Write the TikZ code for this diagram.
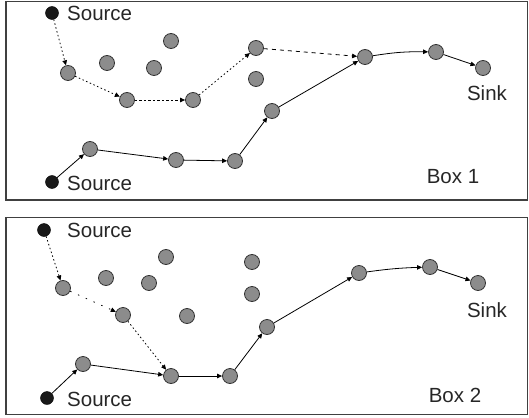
\documentclass[tikz,border=0pt]{standalone}
\usepackage{fontspec}
\setmainfont{Liberation Sans}
\usetikzlibrary{arrows.meta}
\definecolor{nodegrey}{HTML}{8C8C8C}
\definecolor{framegrey}{HTML}{404040}
\tikzset{
  pt/.style={circle,draw=black!80,fill=nodegrey,line width=0.8pt,minimum size=15pt,inner sep=0pt},
  src/.style={circle,fill=black!90,draw=black,minimum size=13pt,inner sep=0pt},
  lbl/.style={font=\fontsize{20.5}{24}\selectfont,inner sep=0pt,text=black!85},
  frame/.style={draw=framegrey,line width=1.5pt},
  link/.style={line width=0.8pt,-{Triangle[length=5pt,width=4.5pt]}},
  dotlink/.style={link,dash pattern=on 1.5pt off 2.5pt},
  dashlink/.style={link,dash pattern=on 4pt off 4pt},
}
\begin{document}
\begin{tikzpicture}[x=1pt,y=-1pt]
\useasboundingbox (0,0) rectangle (529,417);
% frames
\draw[frame] (6,1.5) rectangle (527.5,200);
\draw[frame] (6,217.5) rectangle (527.5,414.5);

% ---- Box 1 ----
\node[src] (s1a) at (52,13) {};
\node[lbl,anchor=west] (t1a) at (67,13) {Source};
\node[src] (s1b) at (52,182) {};
\node[lbl,anchor=west] (t1b) at (67,183) {Source};
\node[pt] (a1) at (68,73) {};
\node[pt] (b1) at (127,100) {};
\node[pt] (c1) at (193,100) {};
\node[pt] (d1) at (256,48) {};
\node[pt] (e1) at (272,111) {};
\node[pt] (f1) at (365,57) {};
\node[pt] (g1) at (436,52) {};
\node[pt] (k1) at (483,68) {};
\node[pt] (h1) at (90,149) {};
\node[pt] (i1) at (176,160) {};
\node[pt] (j1) at (235,161) {};
\node[pt] (u1) at (107,63) {};
\node[pt] (v1) at (154,68) {};
\node[pt] (w1) at (171,41) {};
\node[pt] (x1) at (256,79) {};
\node[lbl] (sink1) at (487,93) {Sink};
\node[lbl] (box1) at (453,177) {Box 1};

\draw[dotlink] (s1a) -- (a1);
\draw[dotlink] (a1) -- (b1);
\draw[link,dash pattern=on 2.5pt off 2pt] (b1) -- (c1);
\draw[dotlink] (c1) -- (d1);
\draw[dashlink] (d1) -- (f1);
\draw[link] (s1b) -- (h1);
\draw[link] (h1) -- (i1);
\draw[link] (i1) -- (j1);
\draw[link] (j1) -- (e1);
\draw[link] (e1) -- (f1);
\draw[link] (f1) to[bend left=5] (g1);
\draw[link] (g1) -- (k1);

% ---- Box 2 ----
\node[src] (s2a) at (44,230) {};
\node[lbl,anchor=west] (t2a) at (67,230) {Source};
\node[src] (s2b) at (47,398) {};
\node[lbl,anchor=west] (t2b) at (67,399) {Source};
\node[pt] (a2) at (63,288) {};
\node[pt] (b2) at (123,315) {};
\node[pt] (c2) at (171,376) {};
\node[pt] (d2) at (230,376) {};
\node[pt] (e2) at (267,327) {};
\node[pt] (f2) at (359,273) {};
\node[pt] (g2) at (430,267) {};
\node[pt] (k2) at (478,283) {};
\node[pt] (h2) at (83,364) {};
\node[pt] (u2) at (106,278) {};
\node[pt] (v2) at (149,283) {};
\node[pt] (w2) at (166,257) {};
\node[pt] (y2) at (187,316) {};
\node[pt] (x2) at (252,262) {};
\node[pt] (z2) at (252,294) {};
\node[lbl] (sink2) at (487,310) {Sink};
\node[lbl] (box2) at (455,395) {Box 2};

\draw[dotlink] (s2a) -- (a2);
\draw[link,dash pattern=on 1.5pt off 7pt] (a2) -- (b2);
\draw[dotlink] (b2) -- (c2);
\draw[link] (s2b) -- (h2);
\draw[link] (h2) -- (c2);
\draw[link] (c2) -- (d2);
\draw[link] (d2) -- (e2);
\draw[link] (e2) -- (f2);
\draw[link] (f2) to[bend left=3] (g2);
\draw[link] (g2) -- (k2);
\end{tikzpicture}
\end{document}
